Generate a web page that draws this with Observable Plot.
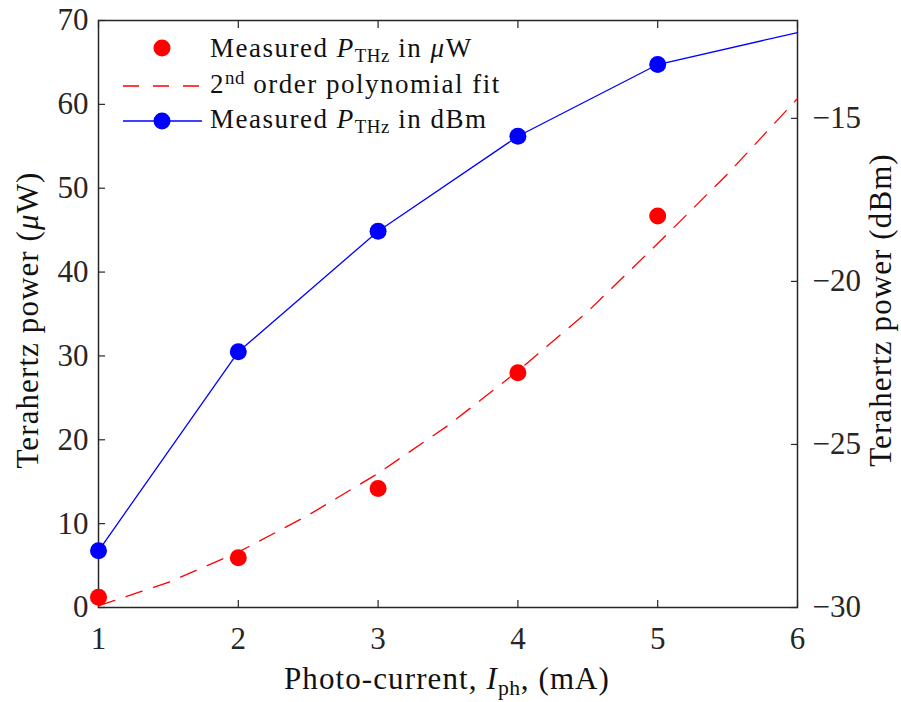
<!DOCTYPE html>
<html><head><meta charset="utf-8">
<script src="https://cdn.jsdelivr.net/npm/d3@7"></script>
<script src="https://cdn.jsdelivr.net/npm/@observablehq/plot@0.6"></script>
<style>body{margin:0;background:#fff} svg{display:block}</style>
</head><body><div id="chart"></div>
<script>
// ---- data ----
const current = [1, 2, 3, 4, 5];                       // mA
const powerUW = [1.23, 5.93, 14.2, 28.0, 46.7];        // measured, μW
const fitX = [1, 1.5, 2, 2.5, 3, 3.5, 4, 4.5, 5, 5.5, 6];
const fitUW = [0.2, 3.0, 6.6, 11.0, 16.0, 21.7, 28.2, 35.3, 43.4, 51.7, 60.7];
const dbmX = [1, 2, 3, 4, 5, 6];
const powerDBm = [-28.26, -22.16, -18.46, -15.55, -13.35, -12.37];
const dbmMarkerX = [1, 2, 3, 4, 5];
const xTicks = [1, 2, 3, 4, 5, 6];
const leftTicks = [0, 10, 20, 30, 40, 50, 60, 70];
const rightTicks = [-30, -25, -20, -15];
const leftDomain = [0, 70];
const rightDomain = [-30, -12];

const toLeft = d => leftDomain[0] + (d - rightDomain[0]) * (leftDomain[1] - leftDomain[0]) / (rightDomain[1] - rightDomain[0]);
const fromLeft = v => rightDomain[0] + (v - leftDomain[0]) * (rightDomain[1] - rightDomain[0]) / (leftDomain[1] - leftDomain[0]);

const red = current.map((x, i) => ({x, y: powerUW[i]}));
const fit = fitX.map((x, i) => ({x, y: fitUW[i]}));
const dbm = dbmX.map((x, i) => ({x, y: toLeft(powerDBm[i])}));
const dbmDots = dbm.filter(d => dbmMarkerX.includes(d.x));

const FONT = "'Liberation Serif', 'Times New Roman', serif";
const FS = 31;
const LS = "1.1px";
const AX = "#262626";
const RED = "#ff0000", BLUE = "#0000ff";
const minus = s => String(s).replace("-", "\u2212");

const plot = Plot.plot({
  width: 901, height: 702,
  marginLeft: 98, marginRight: 104, marginTop: 20, marginBottom: 95,
  style: {fontFamily: FONT, fontSize: FS + "px", color: AX, background: "#fff", overflow: "visible"},
  x: {domain: [1, 6]},
  y: {domain: leftDomain},
  marks: [
    Plot.frame({stroke: AX, strokeWidth: 1.5}),
    Plot.axisX({ticks: xTicks, tickSize: -7, tickPadding: 26, tickFormat: d => d, label: null, strokeWidth: 1.2}),
    Plot.axisX({anchor: "top", ticks: xTicks, tickSize: -7, tickFormat: () => "", label: null, strokeWidth: 1.2}),
    Plot.axisY({ticks: leftTicks, tickSize: -7, tickPadding: 17, tickFormat: d => d, label: null, strokeWidth: 1.2}),
    Plot.axisY({anchor: "right", ticks: rightTicks.map(toLeft), tickSize: -7, tickPadding: 22,
      tickFormat: v => minus(Math.round(fromLeft(v))), label: null, strokeWidth: 1.2}),
    Plot.line(fit, {x: "x", y: "y", stroke: RED, strokeWidth: 1.3, strokeDasharray: "17,12"}),
    Plot.line(dbm, {x: "x", y: "y", stroke: BLUE, strokeWidth: 1.3}),
    Plot.dot(dbmDots, {x: "x", y: "y", r: 8.5, fill: BLUE, stroke: "none"}),
    Plot.dot(red, {x: "x", y: "y", r: 8.5, fill: RED, stroke: "none"})
  ]
});
document.getElementById("chart").appendChild(plot);

// ---- rich text labels (italic symbols, sub/superscripts) ----
const svg = d3.select(plot);
function rich(g, parts, attrs, fs = FS, ls = LS) {
  const t = g.append("text").attr("font-family", FONT).attr("font-size", fs)
    .attr("fill", "#111").attr("letter-spacing", ls).attr("text-anchor", "start");
  for (const [k, v] of Object.entries(attrs || {})) t.attr(k, v);
  let shift = 0;
  for (const p of parts) {
    const s = t.append("tspan").text(p.t);
    let target = p.sub ? Math.round(fs * 0.18) : p.sup ? -Math.round(fs * 0.33) : 0;
    if (target !== shift) { s.attr("dy", target - shift); shift = target; }
    if (p.sub || p.sup) s.attr("font-size", fs * 0.7).attr("letter-spacing", "0.6px");
    if (p.i) s.attr("font-style", "italic");
  }
  return t;
}
const labels = svg.append("g");
rich(labels, [{t: "Photo-current, "}, {t: "I", i: true}, {t: "ph", sub: true}, {t: ", (mA)"}],
  {x: 447, y: 689, "text-anchor": "middle"});
rich(labels.append("g").attr("transform", "translate(38,320) rotate(-90)"),
  [{t: "Terahertz power ("}, {t: "μ", i: true}, {t: "W)"}], {x: 0, y: 0, "text-anchor": "middle"});
rich(labels.append("g").attr("transform", "translate(891,310) rotate(-90)"),
  [{t: "Terahertz power (dBm)"}], {x: 0, y: 0, "text-anchor": "middle"});

// ---- legend ----
const LFS = 27, LLS = "1.5px";
const lg = svg.append("g");
lg.append("circle").attr("cx", 162).attr("cy", 48).attr("r", 8.5).attr("fill", RED);
rich(lg, [{t: "Measured "}, {t: "P", i: true}, {t: "THz", sub: true}, {t: " in "}, {t: "μ", i: true}, {t: "W"}], {x: 210, y: 57}, LFS, LLS);
lg.append("line").attr("x1", 123).attr("x2", 202).attr("y1", 86).attr("y2", 86)
  .attr("stroke", RED).attr("stroke-width", 1.3).attr("stroke-dasharray", "16,14");
rich(lg, [{t: "2"}, {t: "nd", sup: true}, {t: " order polynomial fit"}], {x: 210, y: 93}, LFS, LLS);
lg.append("line").attr("x1", 123).attr("x2", 202).attr("y1", 121).attr("y2", 121)
  .attr("stroke", BLUE).attr("stroke-width", 1.3);
lg.append("circle").attr("cx", 162).attr("cy", 121).attr("r", 8.5).attr("fill", BLUE);
rich(lg, [{t: "Measured "}, {t: "P", i: true}, {t: "THz", sub: true}, {t: " in dBm"}], {x: 210, y: 128}, LFS, LLS);
</script>
</body></html>
